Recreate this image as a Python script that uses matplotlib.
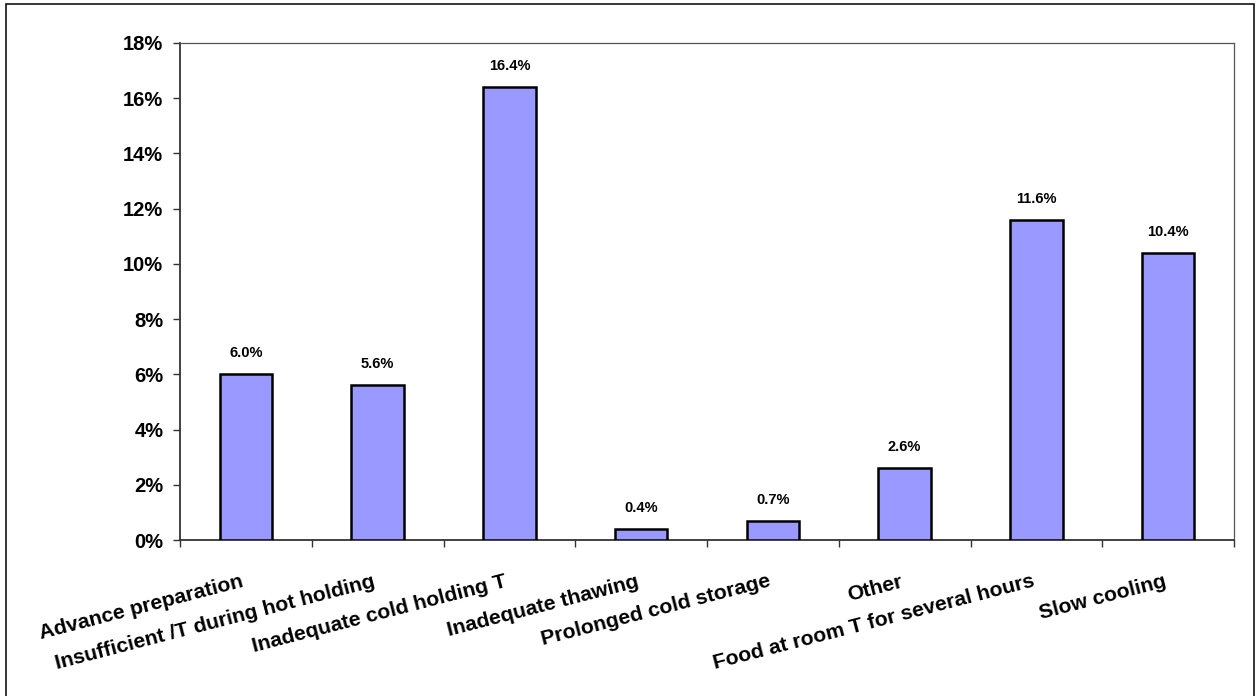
import matplotlib
matplotlib.use("Agg")
import matplotlib.pyplot as plt
from matplotlib.patches import Rectangle
from matplotlib.ticker import FixedLocator, FuncFormatter
from matplotlib.transforms import ScaledTranslation

plt.rcParams["font.family"] = ["Liberation Sans", "DejaVu Sans"]

# ---- data ------------------------------------------------------------------
categories = ["Advance preparation",
              "Insufficient /T during hot holding",
              "Inadequate cold holding T",
              "Inadequate thawing",
              "Prolonged cold storage",
              "Other",
              "Food at room T for several hours",
              "Slow cooling"]
values = [6.0, 5.6, 16.4, 0.4, 0.7, 2.6, 11.6, 10.4]   # percent
yticks = [0, 2, 4, 6, 8, 10, 12, 14, 16, 18]

W, H = 1256, 696
fig = plt.figure(figsize=(W / 100, H / 100), dpi=100)
fig.patch.set_facecolor("white")

# outer chart-area frame (open at the bottom, as in the reference)
fig.add_artist(Rectangle((6 / W, -0.01), (1254 - 6) / W, (696 - 4) / H + 0.01,
                         transform=fig.transFigure, fill=False,
                         edgecolor="black", lw=1.1))

ax = fig.add_axes([180 / W, (H - 540) / H, (1234 - 180) / W, (540 - 43) / H])

x = [i + 0.5 for i in range(len(categories))]
ax.bar(x, values, width=0.40, color="#9999FF", edgecolor="black", lw=1.8,
       zorder=3)

for xi, v in zip(x, values):
    ax.annotate(f"{v:.1f}%", (xi, v), xytext=(0, 10), textcoords="offset points",
                ha="center", va="bottom", fontsize=10.5, fontweight="bold")

ax.set_xlim(0, len(categories))
ax.set_ylim(0, 18)

# y axis
ax.yaxis.set_major_locator(FixedLocator(yticks))
ax.yaxis.set_major_formatter(FuncFormatter(lambda v, _: f"{v:.0f}%"))
ax.tick_params(axis="y", direction="out", length=5, width=1, pad=7,
               labelsize=14.5, color="#333333")
for lab in ax.get_yticklabels():
    lab.set_fontweight("bold")

# x axis: tick marks at category boundaries, labels at centres
ax.xaxis.set_minor_locator(FixedLocator(range(len(categories) + 1)))
ax.xaxis.set_major_locator(FixedLocator(x))
ax.set_xticklabels(categories, rotation=14.5, ha="right", va="top",
                   rotation_mode="anchor", fontsize=15.2, fontweight="bold")
ax.tick_params(axis="x", which="major", length=0, pad=23)
ax.tick_params(axis="x", which="minor", direction="out", length=5, width=1,
               color="#333333")
offset = ScaledTranslation(-5 / 100, 0, fig.dpi_scale_trans)
for lab in ax.get_xticklabels():
    lab.set_transform(lab.get_transform() + offset)

for side in ("left", "bottom"):
    ax.spines[side].set_color("#333333")
    ax.spines[side].set_linewidth(1.3)
for side in ("top", "right"):
    ax.spines[side].set_color("#555555")
    ax.spines[side].set_linewidth(0.9)

fig.savefig("out.png", dpi=100)
